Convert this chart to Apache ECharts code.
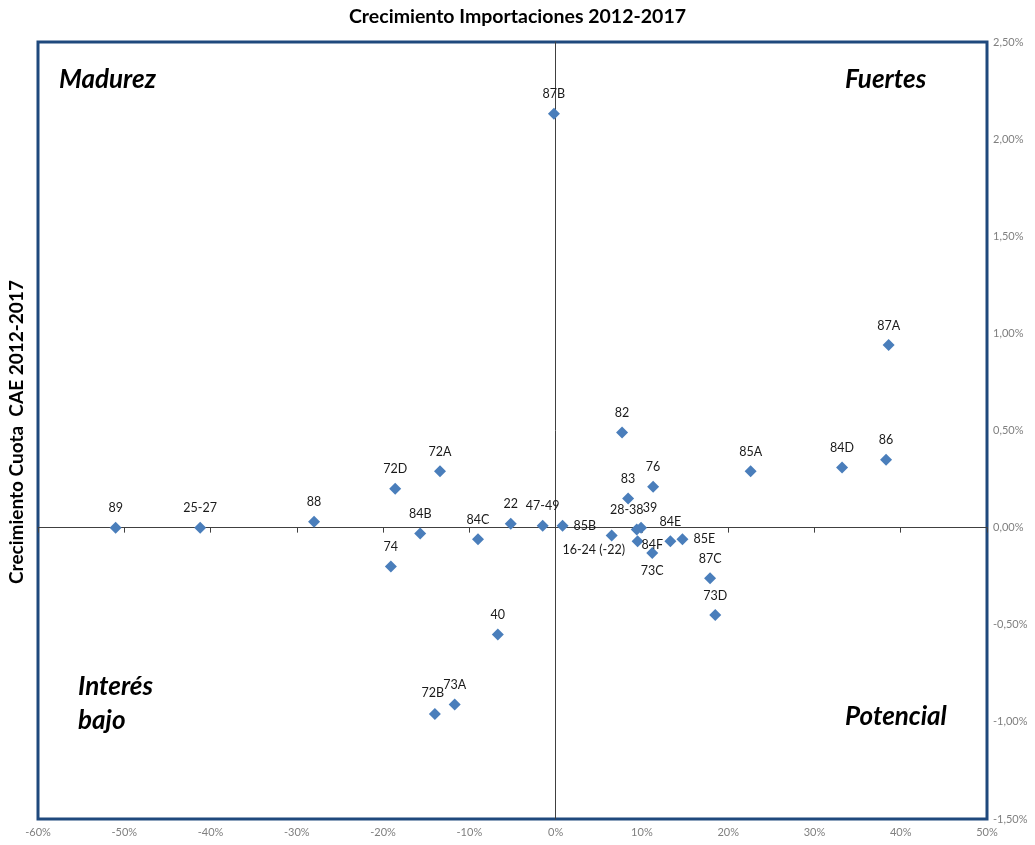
<!DOCTYPE html>
<html>
<head>
<meta charset="utf-8">
<script src="https://cdn.jsdelivr.net/npm/echarts@6/dist/echarts.min.js"></script>
<style>html,body{margin:0;padding:0;background:#fff}#c{width:1035px;height:845px}</style>
</head>
<body>
<div id="c"></div>
<script>
// Data (x: growth of imports %, y: growth of CAE share %)
const names = ['89','25-27','88','72D','72A','84B','74','84C','22','47-49','85B','87B','40','72B','73A','16-24 (-22)','28-38','39','84F','73C','84E','85E','87C','73D','82','83','76','85A','84D','86','87A'];
const xValues = [-51.0,-41.2,-28.0,-18.6,-13.4,-15.7,-19.1,-9.0,-5.2,-1.5,0.8,-0.2,-6.7,-14.0,-11.7,6.5,9.4,9.9,9.5,11.2,13.3,14.7,17.9,18.5,7.7,8.4,11.3,22.6,33.2,38.3,38.6];
const yValues = [0.00,0.00,0.03,0.20,0.29,-0.03,-0.20,-0.06,0.02,0.01,0.01,2.13,-0.55,-0.96,-0.91,-0.04,-0.01,0.00,-0.07,-0.13,-0.07,-0.06,-0.26,-0.45,0.49,0.15,0.21,0.29,0.31,0.35,0.94];
const xTicks = {min:-60, max:50, interval:10};
const yTicks = {min:-1.5, max:2.5, interval:0.5};
const quadrantLabels = ['Madurez','Fuertes','Interés\nbajo','Potencial'];

// label placement (style)
const labelPos = {'85B':'right','16-24 (-22)':'bottomLeft','28-38':'topLeft2','39':'topRight','84F':'rightTight','85E':'right','73C':'bottom','72B':'topLeft','73A':'top'};

const data = names.map((n,i)=>{
  const d = {name:n, value:[xValues[i], yValues[i]]};
  const p = labelPos[n];
  if (p === 'right') d.label = {position:'right', distance:5};
  else if (p === 'rightTight') d.label = {position:'right', distance:0, offset:[-2,4]};
  else if (p === 'bottom') d.label = {position:'bottom', distance:6};
  else if (p === 'bottomLeft') d.label = {position:'bottom', distance:2, offset:[-18,0]};
  else if (p === 'topRight') d.label = {position:'top', offset:[9,0]};
  else if (p === 'topLeft2') d.label = {position:'top', offset:[-10,0]};
  else if (p === 'topLeft') d.label = {position:'top', offset:[-2,-2]};
  return d;
});

const fmtPct = v => (v.toFixed(2).replace('.',',')) + '%';
const chart = echarts.init(document.getElementById('c'));
const lbl = {color:'#1a1a1a', fontFamily:'Lato, "Open Sans", sans-serif', fontSize:12.5};
const qFont = 'italic bold 26px Lato, "Open Sans", sans-serif';
chart.setOption({
  animation:false,
  title:{text:'Crecimiento Importaciones 2012-2017', left:'center', top:2,
    textStyle:{fontFamily:'Lato, "Open Sans", sans-serif', fontSize:19.5, fontWeight:'bold', color:'#000'}},
  grid:{left:38, right:48, top:42, bottom:26, show:true, borderColor:'#1f497d', borderWidth:3, backgroundColor:'#fff'},
  xAxis:[
    {type:'value', min:xTicks.min, max:xTicks.max, interval:xTicks.interval, position:'bottom',
     axisLine:{show:false, onZero:false}, axisTick:{show:false}, splitLine:{show:false},
     axisLabel:{formatter:v=>v+'%', color:'#7f7f7f', fontSize:11, fontFamily:'"Liberation Sans Narrow", Lato, sans-serif', margin:8}},
    {type:'value', min:xTicks.min, max:xTicks.max, interval:xTicks.interval, position:'bottom',
     axisLine:{show:true, onZero:true, onZeroAxisIndex:1, lineStyle:{color:'#404040', width:1}},
     axisTick:{show:true, length:5, lineStyle:{color:'#404040'}}, axisLabel:{show:false}, splitLine:{show:false}}
  ],
  yAxis:[
    {type:'value', min:yTicks.min, max:yTicks.max, interval:yTicks.interval, position:'right',
     axisLine:{show:false, onZero:false}, axisTick:{show:false}, splitLine:{show:false},
     axisLabel:{formatter:fmtPct, color:'#7f7f7f', fontSize:11, fontFamily:'"Liberation Sans Narrow", Lato, sans-serif', margin:6}},
    {type:'value', min:yTicks.min, max:yTicks.max, interval:yTicks.interval, position:'left',
     axisLine:{show:true, onZero:true, onZeroAxisIndex:0, lineStyle:{color:'#404040', width:1}},
     axisTick:{show:false}, axisLabel:{show:false}, splitLine:{show:false}}
  ],
  series:[{
    type:'scatter', xAxisIndex:0, yAxisIndex:0, symbol:'diamond', symbolSize:12,
    itemStyle:{color:'#4a7ebb', opacity:1},
    label:Object.assign({show:true, position:'top', distance:7, formatter:p=>p.name}, lbl),
    data:data, z:5
  }],
  graphic:[
    {type:'text', left:59, top:67, style:{text:quadrantLabels[0], font:qFont, fill:'#000'}},
    {type:'text', left:845, top:67, style:{text:quadrantLabels[1], font:qFont, fill:'#000'}},
    {type:'text', left:78, top:670, style:{text:quadrantLabels[2], font:qFont, fill:'#000', lineHeight:34}},
    {type:'text', left:845, top:704, style:{text:quadrantLabels[3], font:qFont, fill:'#000'}},
    {type:'text', x:7, y:432, rotation:Math.PI/2,
     style:{text:'Crecimiento Cuota  CAE 2012-2017', font:'bold 19px Lato, "Open Sans", sans-serif', fill:'#000', align:'center', verticalAlign:'top'}}
  ]
});
</script>
</body>
</html>
